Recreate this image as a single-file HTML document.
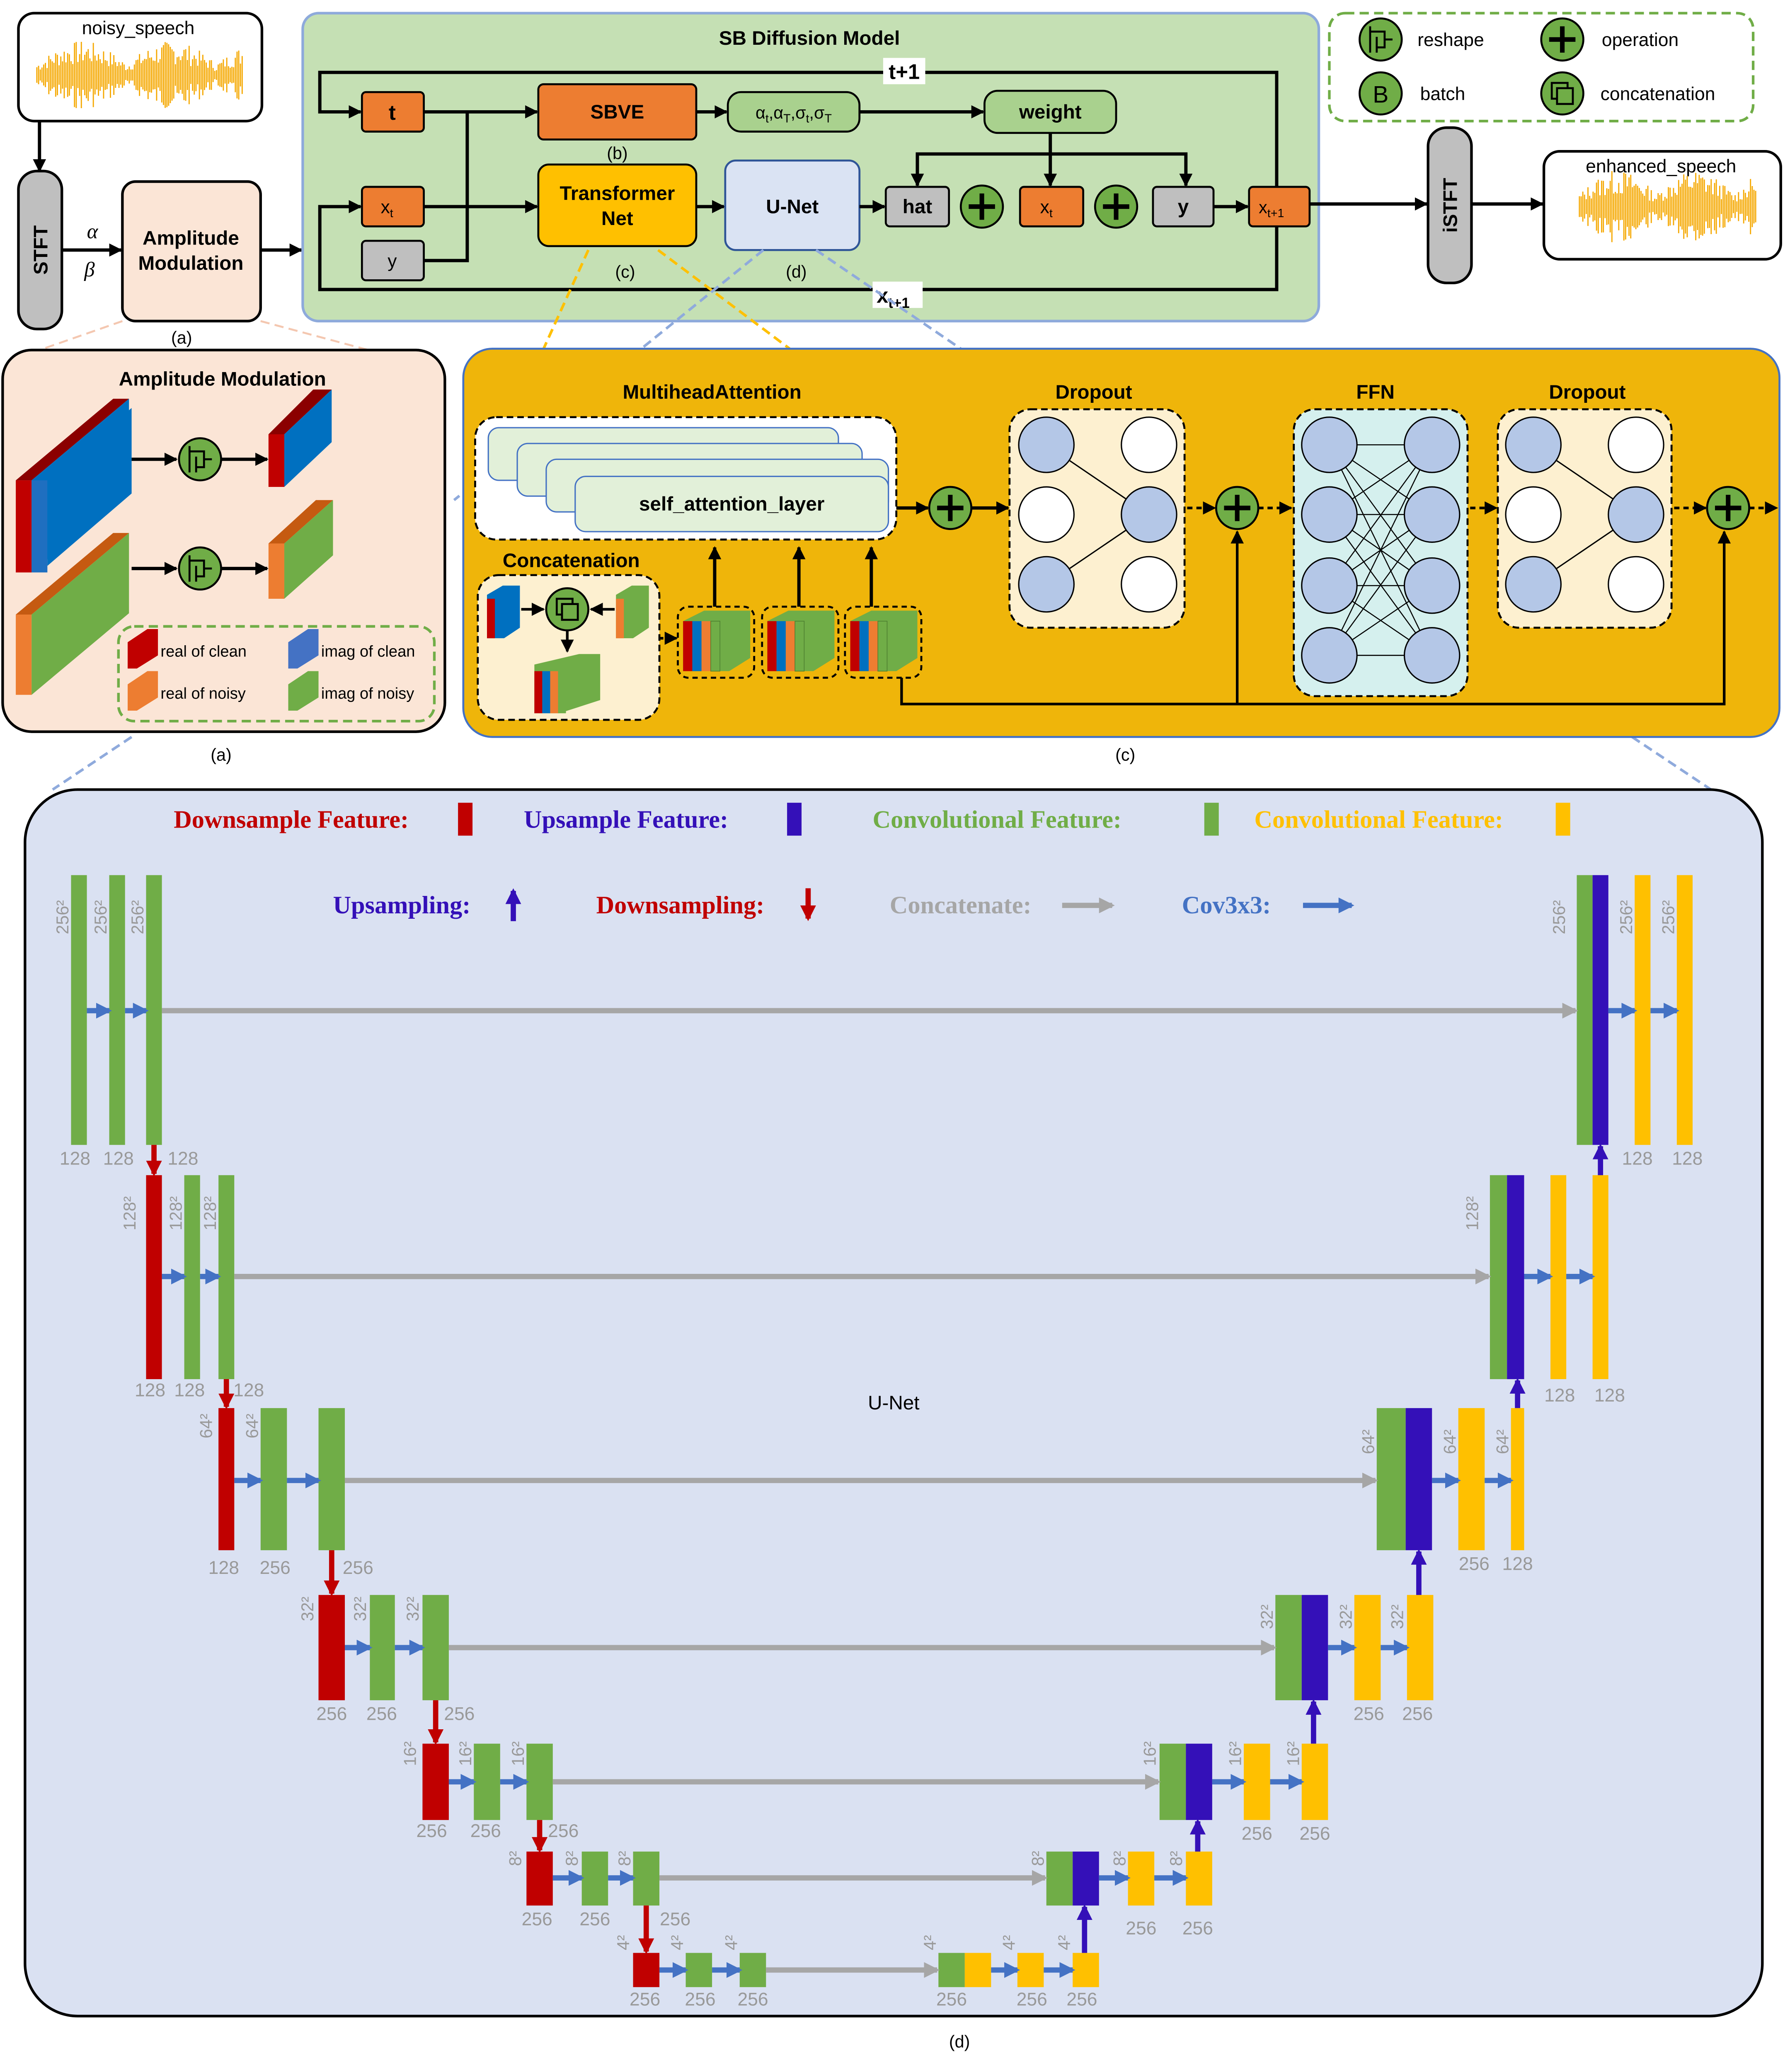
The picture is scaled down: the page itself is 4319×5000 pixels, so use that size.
<!DOCTYPE html>
<html><head><meta charset="utf-8"><style>html,body{margin:0;padding:0;background:#fff}svg{display:block}text{font-family:"Liberation Sans",sans-serif}</style></head><body>
<svg xmlns="http://www.w3.org/2000/svg" width="4319" height="5000" viewBox="0 0 1360 1574.5" preserveAspectRatio="none">
<defs>
<marker id="ak" markerWidth="10" markerHeight="10" refX="9" refY="5" orient="auto" markerUnits="userSpaceOnUse"><path d="M0,0 L10,5 L0,10 Z" fill="#000"/></marker>
<marker id="ab" markerWidth="12" markerHeight="12" refX="10" refY="6" orient="auto" markerUnits="userSpaceOnUse"><path d="M0,0 L12,6 L0,12 Z" fill="#4472c4"/></marker>
<marker id="ag" markerWidth="12" markerHeight="12" refX="10" refY="6" orient="auto" markerUnits="userSpaceOnUse"><path d="M0,0 L12,6 L0,12 Z" fill="#a6a6a6"/></marker>
<marker id="ar" markerWidth="12" markerHeight="12" refX="10" refY="6" orient="auto" markerUnits="userSpaceOnUse"><path d="M0,0 L12,6 L0,12 Z" fill="#c00000"/></marker>
<marker id="ap" markerWidth="12" markerHeight="12" refX="10" refY="6" orient="auto" markerUnits="userSpaceOnUse"><path d="M0,0 L12,6 L0,12 Z" fill="#3410b8"/></marker>
</defs>

<rect x="14" y="10" width="185" height="82" rx="12" fill="#fff" stroke="#000" stroke-width="2"/>
<text x="105" y="26" font-size="14" text-anchor="middle">noisy_speech</text>
<path id="w1" d="" stroke="#f5a800" stroke-width="0.9" fill="none"/>
<line x1="30" y1="92" x2="30" y2="130" stroke="#000" stroke-width="2.5" marker-end="url(#ak)"/>
<rect x="14" y="130" width="33" height="120" rx="14" fill="#bfbfbf" stroke="#000" stroke-width="2"/>
<text transform="translate(36,190) rotate(-90)" font-size="15" font-weight="bold" text-anchor="middle">STFT</text>
<line x1="47" y1="190" x2="92" y2="190" stroke="#000" stroke-width="2.5" marker-end="url(#ak)"/>
<text x="66" y="181" font-size="16" font-style="italic" style="font-family:'Liberation Serif',serif">α</text>
<text x="64" y="210" font-size="16" font-style="italic" style="font-family:'Liberation Serif',serif">β</text>
<rect x="93" y="138" width="105" height="106" rx="10" fill="#fbe5d6" stroke="#000" stroke-width="2"/>
<text x="145" y="186" font-size="15" font-weight="bold" text-anchor="middle">Amplitude</text>
<text x="145" y="205" font-size="15" font-weight="bold" text-anchor="middle">Modulation</text>
<text x="138" y="261" font-size="13" text-anchor="middle">(a)</text>
<line x1="198" y1="190" x2="229" y2="190" stroke="#000" stroke-width="2.5" marker-end="url(#ak)"/>

<rect x="230" y="10" width="772" height="234" rx="12" fill="#c5e0b4" stroke="#8eaadb" stroke-width="2"/>
<text x="615" y="34" font-size="15" font-weight="bold" text-anchor="middle">SB Diffusion Model</text>
<path d="M970,142 V55 H243 V85 H274" fill="none" stroke="#000" stroke-width="2.5" marker-end="url(#ak)"/>
<path d="M970,172 V220 H243 V157 H274" fill="none" stroke="#000" stroke-width="2.5" marker-end="url(#ak)"/>
<rect x="671" y="44" width="32" height="20" fill="#fff"/><text x="687" y="60" font-size="16" font-weight="bold" text-anchor="middle">t+1</text>
<rect x="663" y="214" width="38" height="20" fill="#fff"/><text x="666" y="230" font-size="16" font-weight="bold">x<tspan font-size="11" dy="4">t+1</tspan></text>
<rect x="275" y="70" width="47" height="30" rx="3" fill="#ed7d31" stroke="#000" stroke-width="1.5"/><text x="298" y="91" font-size="16" font-weight="bold" text-anchor="middle">t</text>
<rect x="275" y="142" width="47" height="30" rx="3" fill="#ed7d31" stroke="#000" stroke-width="1.5"/><text x="294" y="162" font-size="14" text-anchor="middle">x<tspan font-size="9" dy="3">t</tspan></text>
<rect x="275" y="183" width="47" height="30" rx="3" fill="#bfbfbf" stroke="#000" stroke-width="1.5"/><text x="298" y="203" font-size="14" text-anchor="middle">y</text>
<path d="M322,198 H355 V85" fill="none" stroke="#000" stroke-width="2.5"/>
<line x1="322" y1="85" x2="408" y2="85" stroke="#000" stroke-width="2.5" marker-end="url(#ak)"/>
<line x1="322" y1="157" x2="408" y2="157" stroke="#000" stroke-width="2.5" marker-end="url(#ak)"/>
<rect x="409" y="64" width="120" height="42" rx="4" fill="#ed7d31" stroke="#000" stroke-width="1.5"/><text x="469" y="90" font-size="15" font-weight="bold" text-anchor="middle">SBVE</text>
<text x="469" y="121" font-size="13" text-anchor="middle">(b)</text>
<rect x="409" y="125" width="120" height="62" rx="8" fill="#ffc000" stroke="#000" stroke-width="1.5"/>
<text x="469" y="152" font-size="15" font-weight="bold" text-anchor="middle">Transformer</text><text x="469" y="171" font-size="15" font-weight="bold" text-anchor="middle">Net</text>
<text x="475" y="211" font-size="13" text-anchor="middle">(c)</text>
<line x1="529" y1="85" x2="552" y2="85" stroke="#000" stroke-width="2.5" marker-end="url(#ak)"/>
<rect x="553" y="70" width="100" height="30" rx="10" fill="#a9d18e" stroke="#000" stroke-width="1.5"/>
<text x="603" y="90" font-size="13" text-anchor="middle">α<tspan font-size="9" dy="3">t</tspan><tspan dy="-3">,α</tspan><tspan font-size="9" dy="3">T</tspan><tspan dy="-3">,σ</tspan><tspan font-size="9" dy="3">t</tspan><tspan dy="-3">,σ</tspan><tspan font-size="9" dy="3">T</tspan></text>
<line x1="653" y1="85" x2="747" y2="85" stroke="#000" stroke-width="2.5" marker-end="url(#ak)"/>
<rect x="748" y="69" width="100" height="32" rx="10" fill="#a9d18e" stroke="#000" stroke-width="1.5"/><text x="798" y="90" font-size="15" font-weight="bold" text-anchor="middle">weight</text>
<line x1="529" y1="157" x2="550" y2="157" stroke="#000" stroke-width="2.5" marker-end="url(#ak)"/>
<rect x="551" y="122" width="102" height="68" rx="8" fill="#dae3f3" stroke="#2f5597" stroke-width="1.5"/><text x="602" y="162" font-size="15" font-weight="bold" text-anchor="middle">U-Net</text>
<text x="605" y="211" font-size="13" text-anchor="middle">(d)</text>
<line x1="653" y1="157" x2="672" y2="157" stroke="#000" stroke-width="2.5" marker-end="url(#ak)"/>
<path d="M798,101 V117" stroke="#000" stroke-width="2.5"/>
<path d="M697,141 V117 H901 V141" fill="none" stroke="#000" stroke-width="2.5" marker-end="url(#ak)"/>
<line x1="697" y1="117" x2="697" y2="141" stroke="#000" stroke-width="2.5" marker-end="url(#ak)"/>
<line x1="798" y1="117" x2="798" y2="141" stroke="#000" stroke-width="2.5" marker-end="url(#ak)"/>
<rect x="673" y="142" width="48" height="30" rx="3" fill="#bfbfbf" stroke="#000" stroke-width="1.5"/><text x="697" y="162" font-size="15" font-weight="bold" text-anchor="middle">hat</text>
<circle cx="746" cy="157" r="16" fill="#70ad47" stroke="#000" stroke-width="1.5"/><path d="M736,157 H756 M746,147 V167" stroke="#000" stroke-width="3.5"/>
<rect x="775" y="142" width="48" height="30" rx="3" fill="#ed7d31" stroke="#000" stroke-width="1.5"/><text x="795" y="162" font-size="14" text-anchor="middle">x<tspan font-size="9" dy="3">t</tspan></text>
<circle cx="848" cy="157" r="16" fill="#70ad47" stroke="#000" stroke-width="1.5"/><path d="M838,157 H858 M848,147 V167" stroke="#000" stroke-width="3.5"/>
<rect x="876" y="142" width="46" height="30" rx="3" fill="#bfbfbf" stroke="#000" stroke-width="1.5"/><text x="899" y="162" font-size="15" font-weight="bold" text-anchor="middle">y</text>
<line x1="922" y1="157" x2="948" y2="157" stroke="#000" stroke-width="2.5" marker-end="url(#ak)"/>
<rect x="949" y="142" width="46" height="30" rx="3" fill="#ed7d31" stroke="#000" stroke-width="1.5"/><text x="966" y="162" font-size="13" text-anchor="middle">x<tspan font-size="9" dy="3">t+1</tspan></text>
<line x1="995" y1="155" x2="1084" y2="155" stroke="#000" stroke-width="2.5" marker-end="url(#ak)"/>
<rect x="1085" y="97" width="33" height="118" rx="14" fill="#bfbfbf" stroke="#000" stroke-width="2"/>
<text transform="translate(1107,156) rotate(-90)" font-size="15" font-weight="bold" text-anchor="middle">iSTFT</text>
<line x1="1118" y1="155" x2="1172" y2="155" stroke="#000" stroke-width="2.5" marker-end="url(#ak)"/>
<rect x="1173" y="115" width="180" height="82" rx="12" fill="#fff" stroke="#000" stroke-width="2"/>
<text x="1262" y="131" font-size="14" text-anchor="middle">enhanced_speech</text>
<path id="w2" d="" stroke="#f5a800" stroke-width="0.9" fill="none"/>

<rect x="1010" y="10" width="322" height="82" rx="12" fill="#fff" stroke="#70ad47" stroke-width="2" stroke-dasharray="7,4"/>
<circle cx="1049" cy="30" r="16" fill="#70ad47" stroke="#000" stroke-width="1.5"/><path d="M1041,20 V40 M1041,24 H1052 V36 H1046 M1046,28 V40 M1052,30 H1058" fill="none" stroke="#000" stroke-width="1.5"/>
<text x="1077" y="35" font-size="14">reshape</text>
<circle cx="1187" cy="30" r="16" fill="#70ad47" stroke="#000" stroke-width="1.5"/><path d="M1177,30 H1197 M1187,20 V40" stroke="#000" stroke-width="3.5"/>
<text x="1217" y="35" font-size="14">operation</text>
<circle cx="1049" cy="71" r="16" fill="#70ad47" stroke="#000" stroke-width="1.5"/><text x="1049" y="78" font-size="18" text-anchor="middle">B</text>
<text x="1079" y="76" font-size="14">batch</text>
<circle cx="1187" cy="71" r="16" fill="#70ad47" stroke="#000" stroke-width="1.5"/><rect x="1179" y="63" width="12" height="12" fill="none" stroke="#000" stroke-width="1.5"/><rect x="1183" y="67" width="12" height="12" fill="#70ad47" stroke="#000" stroke-width="1.5"/>
<text x="1216" y="76" font-size="14">concatenation</text>

<line x1="93" y1="244" x2="30" y2="266" stroke="#f4c7b0" stroke-width="1.5" stroke-dasharray="7,4"/>
<line x1="198" y1="244" x2="280" y2="266" stroke="#f4c7b0" stroke-width="1.5" stroke-dasharray="7,4"/>
<line x1="447" y1="190" x2="413" y2="265" stroke="#ffc000" stroke-width="2" stroke-dasharray="7,4"/>
<line x1="500" y1="190" x2="600" y2="265" stroke="#ffc000" stroke-width="2" stroke-dasharray="7,4"/>
<line x1="580" y1="190" x2="345" y2="380" stroke="#8faadc" stroke-width="2" stroke-dasharray="7,4"/>
<line x1="620" y1="190" x2="730" y2="265" stroke="#8faadc" stroke-width="2" stroke-dasharray="7,4"/>
<line x1="100" y1="560" x2="40" y2="600" stroke="#8faadc" stroke-width="2" stroke-dasharray="7,4"/>
<line x1="1240" y1="560" x2="1300" y2="600" stroke="#8faadc" stroke-width="2" stroke-dasharray="7,4"/>

<rect x="2" y="266" width="336" height="290" rx="22" fill="#fbe5d6" stroke="#000" stroke-width="2"/>
<text x="169" y="293" font-size="15" font-weight="bold" text-anchor="middle">Amplitude Modulation</text>
<text x="168" y="578" font-size="13" text-anchor="middle">(a)</text>
<polygon points="12,365 86,303 98,303 24,365" fill="#8b0000"/>
<polygon points="24,365 98,303 98,373 24,435" fill="#0070c0"/>
<rect x="12" y="365" width="12" height="70" fill="#c00000"/>
<polygon points="24,365 36,365 36,435 24,435" fill="#1f6fc0"/>
<polygon points="36,365 100,310 100,375 36,430" fill="#0070c0"/>
<line x1="100" y1="349" x2="134" y2="349" stroke="#000" stroke-width="2.5" marker-end="url(#ak)"/>
<circle cx="152" cy="349" r="16" fill="#70ad47" stroke="#000" stroke-width="1.5"/><path d="M144,339 V359 M144,343 H155 V355 H149 M149,347 V359 M155,349 H161" fill="none" stroke="#000" stroke-width="1.5"/>
<line x1="168" y1="349" x2="203" y2="349" stroke="#000" stroke-width="2.5" marker-end="url(#ak)"/>
<polygon points="204,330 238,296 252,296 216,330" fill="#8b0000"/>
<rect x="204" y="330" width="12" height="40" fill="#c00000"/>
<polygon points="216,330 252,296 252,336 216,370" fill="#0070c0"/>
<polygon points="12,467 86,405 98,405 24,467" fill="#c55a11"/>
<rect x="12" y="467" width="12" height="61" fill="#ed7d31"/>
<polygon points="24,467 98,405 98,466 24,528" fill="#70ad47"/>
<line x1="100" y1="432" x2="134" y2="432" stroke="#000" stroke-width="2.5" marker-end="url(#ak)"/>
<circle cx="152" cy="432" r="16" fill="#70ad47" stroke="#000" stroke-width="1.5"/><path d="M144,422 V442 M144,426 H155 V438 H149 M149,430 V442 M155,432 H161" fill="none" stroke="#000" stroke-width="1.5"/>
<line x1="168" y1="432" x2="203" y2="432" stroke="#000" stroke-width="2.5" marker-end="url(#ak)"/>
<polygon points="204,413 240,380 253,380 216,413" fill="#c55a11"/>
<rect x="204" y="413" width="12" height="42" fill="#ed7d31"/>
<polygon points="216,413 253,380 253,422 216,455" fill="#70ad47"/>
<rect x="90" y="476" width="240" height="72" rx="12" fill="none" stroke="#70ad47" stroke-width="2" stroke-dasharray="7,4"/>
<polygon points="97,488 112,478 120,478 120,498 104,508 97,508" fill="#c00000"/><text x="122" y="499" font-size="12">real of clean</text>
<polygon points="97,520 112,510 120,510 120,530 104,540 97,540" fill="#ed7d31"/><text x="122" y="531" font-size="12">real of noisy</text>
<polygon points="219,488 234,478 242,478 242,498 226,508 219,508" fill="#4472c4"/><text x="244" y="499" font-size="12">imag of clean</text>
<polygon points="219,520 234,510 242,510 242,530 226,540 219,540" fill="#70ad47"/><text x="244" y="531" font-size="12">imag of noisy</text>

<rect x="352" y="265" width="1000" height="295" rx="22" fill="#efb50a" stroke="#4472c4" stroke-width="1.5"/>
<text x="855" y="578" font-size="13" text-anchor="middle">(c)</text>
<text x="541" y="303" font-size="15" font-weight="bold" text-anchor="middle">MultiheadAttention</text>
<rect x="361" y="317" width="320" height="93" rx="16" fill="#fff" stroke="#000" stroke-width="1.5" stroke-dasharray="5,3"/>
<rect x="371" y="325" width="266" height="40" rx="8" fill="#e2f0d9" stroke="#4472c4" stroke-width="1"/>
<rect x="393" y="337" width="262" height="40" rx="8" fill="#e2f0d9" stroke="#4472c4" stroke-width="1"/>
<rect x="415" y="349" width="260" height="40" rx="8" fill="#e2f0d9" stroke="#4472c4" stroke-width="1"/>
<rect x="437" y="362" width="238" height="42" rx="8" fill="#e2f0d9" stroke="#4472c4" stroke-width="1"/>
<text x="556" y="388" font-size="15" font-weight="bold" text-anchor="middle">self_attention_layer</text>
<line x1="681" y1="386" x2="705" y2="386" stroke="#000" stroke-width="2.5" marker-end="url(#ak)"/>
<circle cx="722" cy="386" r="16" fill="#70ad47" stroke="#000" stroke-width="1.5"/><path d="M712,386 H732 M722,376 V396" stroke="#000" stroke-width="3.5"/>
<line x1="738" y1="386" x2="766" y2="386" stroke="#000" stroke-width="2.5" marker-end="url(#ak)"/>
<text x="831" y="303" font-size="15" font-weight="bold" text-anchor="middle">Dropout</text>
<rect x="767" y="311" width="133" height="166" rx="16" fill="#fdf0d0" stroke="#000" stroke-width="1.5" stroke-dasharray="5,3"/>
<path d="M795,338 L873,391 M795,444 L873,391" stroke="#000" stroke-width="1"/>
<circle cx="795" cy="338" r="21" fill="#b4c7e7" stroke="#000"/><circle cx="795" cy="391" r="21" fill="#fff" stroke="#000"/><circle cx="795" cy="444" r="21" fill="#b4c7e7" stroke="#000"/>
<circle cx="873" cy="338" r="21" fill="#fff" stroke="#000"/><circle cx="873" cy="391" r="21" fill="#b4c7e7" stroke="#000"/><circle cx="873" cy="444" r="21" fill="#fff" stroke="#000"/>
<line x1="902" y1="386" x2="923" y2="386" stroke="#000" stroke-width="2" stroke-dasharray="4,3" marker-end="url(#ak)"/>
<circle cx="940" cy="386" r="16" fill="#70ad47" stroke="#000" stroke-width="1.5"/><path d="M930,386 H950 M940,376 V396" stroke="#000" stroke-width="3.5"/>
<line x1="956" y1="386" x2="981" y2="386" stroke="#000" stroke-width="2" stroke-dasharray="4,3" marker-end="url(#ak)"/>
<text x="1045" y="303" font-size="15" font-weight="bold" text-anchor="middle">FFN</text>
<rect x="983" y="311" width="132" height="218" rx="16" fill="#d5f0ee" stroke="#000" stroke-width="1.5" stroke-dasharray="5,3"/>
<path d="M1010,338 L1088,338 M1010,338 L1088,391 M1010,338 L1088,445 M1010,338 L1088,498 M1010,391 L1088,338 M1010,391 L1088,391 M1010,391 L1088,445 M1010,391 L1088,498 M1010,445 L1088,338 M1010,445 L1088,391 M1010,445 L1088,445 M1010,445 L1088,498 M1010,498 L1088,338 M1010,498 L1088,391 M1010,498 L1088,445 M1010,498 L1088,498" stroke="#000" stroke-width="0.8"/>
<g fill="#b4c7e7" stroke="#000"><circle cx="1010" cy="338" r="21"/><circle cx="1010" cy="391" r="21"/><circle cx="1010" cy="445" r="21"/><circle cx="1010" cy="498" r="21"/><circle cx="1088" cy="338" r="21"/><circle cx="1088" cy="391" r="21"/><circle cx="1088" cy="445" r="21"/><circle cx="1088" cy="498" r="21"/></g>
<line x1="1117" y1="386" x2="1137" y2="386" stroke="#000" stroke-width="2" stroke-dasharray="4,3" marker-end="url(#ak)"/>
<text x="1206" y="303" font-size="15" font-weight="bold" text-anchor="middle">Dropout</text>
<rect x="1138" y="311" width="132" height="166" rx="16" fill="#fdf0d0" stroke="#000" stroke-width="1.5" stroke-dasharray="5,3"/>
<path d="M1165,338 L1243,391 M1165,444 L1243,391" stroke="#000" stroke-width="1"/>
<circle cx="1165" cy="338" r="21" fill="#b4c7e7" stroke="#000"/><circle cx="1165" cy="391" r="21" fill="#fff" stroke="#000"/><circle cx="1165" cy="444" r="21" fill="#b4c7e7" stroke="#000"/>
<circle cx="1243" cy="338" r="21" fill="#fff" stroke="#000"/><circle cx="1243" cy="391" r="21" fill="#b4c7e7" stroke="#000"/><circle cx="1243" cy="444" r="21" fill="#fff" stroke="#000"/>
<line x1="1272" y1="386" x2="1296" y2="386" stroke="#000" stroke-width="2" stroke-dasharray="4,3" marker-end="url(#ak)"/>
<circle cx="1313" cy="386" r="16" fill="#70ad47" stroke="#000" stroke-width="1.5"/><path d="M1303,386 H1323 M1313,376 V396" stroke="#000" stroke-width="3.5"/>
<line x1="1329" y1="386" x2="1350" y2="386" stroke="#000" stroke-width="2" stroke-dasharray="4,3" marker-end="url(#ak)"/>
<path d="M685,515 V535 H1310 V404" fill="none" stroke="#000" stroke-width="2" marker-end="url(#ak)"/>
<line x1="940" y1="535" x2="940" y2="404" stroke="#000" stroke-width="2" marker-end="url(#ak)"/>
<text x="434" y="431" font-size="15" font-weight="bold" text-anchor="middle">Concatenation</text>
<rect x="363" y="437" width="138" height="110" rx="16" fill="#fdf0d0" stroke="#000" stroke-width="1.5" stroke-dasharray="5,3"/>
<polygon points="370,452 382,445 395,445 395,477 383,485 370,485" fill="#0070c0"/><rect x="370" y="455" width="6" height="30" fill="#c00000"/>
<polygon points="468,452 480,445 493,445 493,477 481,485 468,485" fill="#70ad47"/><rect x="468" y="455" width="6" height="30" fill="#ed7d31"/>
<line x1="396" y1="463" x2="413" y2="463" stroke="#000" stroke-width="2" marker-end="url(#ak)"/>
<line x1="467" y1="463" x2="449" y2="463" stroke="#000" stroke-width="2" marker-end="url(#ak)"/>
<circle cx="431" cy="463" r="16" fill="#70ad47" stroke="#000" stroke-width="1.5"/><rect x="423" y="455" width="12" height="12" fill="none" stroke="#000" stroke-width="1.5"/><rect x="427" y="459" width="12" height="12" fill="#70ad47" stroke="#000" stroke-width="1.5"/>
<line x1="431" y1="479" x2="431" y2="495" stroke="#000" stroke-width="2" marker-end="url(#ak)"/>
<g><polygon points="406,505 440,497 456,497 456,532 425,542 406,542" fill="#70ad47"/><rect x="406" y="510" width="6" height="32" fill="#c00000"/><rect x="412" y="510" width="6" height="32" fill="#0070c0"/><rect x="418" y="510" width="6" height="32" fill="#ed7d31"/><rect x="424" y="510" width="6" height="32" fill="#70ad47"/></g>
<line x1="501" y1="485" x2="514" y2="485" stroke="#000" stroke-width="2" stroke-dasharray="3,2" marker-end="url(#ak)"/>
<g id="cb">
<rect x="515" y="461" width="58" height="54" rx="8" fill="none" stroke="#000" stroke-width="1.5" stroke-dasharray="4,3"/>
<polygon points="519,472 535,464 570,464 570,500 554,510 519,510" fill="#70ad47"/>
<rect x="519" y="472" width="7" height="38" fill="#c00000"/><rect x="526" y="472" width="7" height="38" fill="#0070c0"/><rect x="533" y="472" width="7" height="38" fill="#ed7d31"/><rect x="540" y="472" width="7" height="38" fill="#70ad47" stroke="#4d7f30" stroke-width="0.5"/>
</g>
<use href="#cb" x="64"/><use href="#cb" x="127"/>
<line x1="543" y1="461" x2="543" y2="416" stroke="#000" stroke-width="2.5" marker-end="url(#ak)"/>
<line x1="607" y1="461" x2="607" y2="416" stroke="#000" stroke-width="2.5" marker-end="url(#ak)"/>
<line x1="662" y1="461" x2="662" y2="416" stroke="#000" stroke-width="2.5" marker-end="url(#ak)"/>

<rect x="19" y="600" width="1320" height="932" rx="40" fill="#dae1f2" stroke="#000" stroke-width="2"/>
<text x="729" y="1556" font-size="13" text-anchor="middle">(d)</text>
<g font-weight="bold" font-size="19" style="font-family:'Liberation Serif',serif">
<text x="132" y="629" fill="#c00000" style="font-family:'Liberation Serif',serif">Downsample Feature:</text><rect x="348" y="610" width="11" height="25" fill="#c00000"/>
<text x="398" y="629" fill="#3410b8" style="font-family:'Liberation Serif',serif">Upsample Feature:</text><rect x="598" y="610" width="11" height="25" fill="#3410b8"/>
<text x="663" y="629" fill="#70ad47" style="font-family:'Liberation Serif',serif">Convolutional Feature:</text><rect x="915" y="610" width="11" height="25" fill="#70ad47"/>
<text x="953" y="629" fill="#ffc000" style="font-family:'Liberation Serif',serif">Convolutional Feature:</text><rect x="1182" y="610" width="11" height="25" fill="#ffc000"/>
<text x="253" y="694" fill="#3410b8" style="font-family:'Liberation Serif',serif">Upsampling:</text>
<text x="453" y="694" fill="#c00000" style="font-family:'Liberation Serif',serif">Downsampling:</text>
<text x="676" y="694" fill="#a6a6a6" style="font-family:'Liberation Serif',serif">Concatenate:</text>
<text x="898" y="694" fill="#4472c4" style="font-family:'Liberation Serif',serif">Cov3x3:</text>
</g>
<line x1="390" y1="700" x2="390" y2="677" stroke="#3410b8" stroke-width="4" marker-end="url(#ap)"/>
<line x1="614" y1="675" x2="614" y2="698" stroke="#c00000" stroke-width="4" marker-end="url(#ar)"/>
<line x1="807" y1="688" x2="845" y2="688" stroke="#a6a6a6" stroke-width="4" marker-end="url(#ag)"/>
<line x1="990" y1="688" x2="1027" y2="688" stroke="#4472c4" stroke-width="4" marker-end="url(#ab)"/>
<text x="679" y="1071" font-size="15" text-anchor="middle">U-Net</text>

<g>
<rect x="54" y="665" width="12" height="205" fill="#70ad47"/><rect x="83" y="665" width="12" height="205" fill="#70ad47"/><rect x="111" y="665" width="12" height="205" fill="#70ad47"/>
<rect x="1198" y="665" width="12" height="205" fill="#70ad47"/><rect x="1210" y="665" width="12" height="205" fill="#3410b8"/><rect x="1242" y="665" width="12" height="205" fill="#ffc000"/><rect x="1274" y="665" width="12" height="205" fill="#ffc000"/>
<rect x="111" y="893" width="12" height="155" fill="#c00000"/><rect x="140" y="893" width="12" height="155" fill="#70ad47"/><rect x="166" y="893" width="12" height="155" fill="#70ad47"/>
<rect x="1132" y="893" width="13" height="155" fill="#70ad47"/><rect x="1145" y="893" width="13" height="155" fill="#3410b8"/><rect x="1178" y="893" width="12" height="155" fill="#ffc000"/><rect x="1210" y="893" width="12" height="155" fill="#ffc000"/>
<rect x="166" y="1070" width="12" height="108" fill="#c00000"/><rect x="198" y="1070" width="20" height="108" fill="#70ad47"/><rect x="242" y="1070" width="20" height="108" fill="#70ad47"/>
<rect x="1046" y="1070" width="22" height="108" fill="#70ad47"/><rect x="1068" y="1070" width="20" height="108" fill="#3410b8"/><rect x="1108" y="1070" width="20" height="108" fill="#ffc000"/><rect x="1148" y="1070" width="10" height="108" fill="#ffc000"/>
<rect x="242" y="1212" width="20" height="80" fill="#c00000"/><rect x="281" y="1212" width="19" height="80" fill="#70ad47"/><rect x="321" y="1212" width="20" height="80" fill="#70ad47"/>
<rect x="969" y="1212" width="20" height="80" fill="#70ad47"/><rect x="989" y="1212" width="20" height="80" fill="#3410b8"/><rect x="1029" y="1212" width="20" height="80" fill="#ffc000"/><rect x="1069" y="1212" width="20" height="80" fill="#ffc000"/>
<rect x="321" y="1325" width="20" height="58" fill="#c00000"/><rect x="360" y="1325" width="20" height="58" fill="#70ad47"/><rect x="400" y="1325" width="20" height="58" fill="#70ad47"/>
<rect x="881" y="1325" width="20" height="58" fill="#70ad47"/><rect x="901" y="1325" width="20" height="58" fill="#3410b8"/><rect x="945" y="1325" width="20" height="58" fill="#ffc000"/><rect x="989" y="1325" width="20" height="58" fill="#ffc000"/>
<rect x="400" y="1407" width="20" height="41" fill="#c00000"/><rect x="442" y="1407" width="20" height="41" fill="#70ad47"/><rect x="481" y="1407" width="20" height="41" fill="#70ad47"/>
<rect x="795" y="1407" width="20" height="41" fill="#70ad47"/><rect x="815" y="1407" width="20" height="41" fill="#3410b8"/><rect x="857" y="1407" width="20" height="41" fill="#ffc000"/><rect x="901" y="1407" width="20" height="41" fill="#ffc000"/>
<rect x="481" y="1484" width="20" height="26" fill="#c00000"/><rect x="521" y="1484" width="20" height="26" fill="#70ad47"/><rect x="562" y="1484" width="20" height="26" fill="#70ad47"/>
<rect x="713" y="1484" width="20" height="26" fill="#70ad47"/><rect x="733" y="1484" width="20" height="26" fill="#ffc000"/><rect x="773" y="1484" width="20" height="26" fill="#ffc000"/><rect x="815" y="1484" width="20" height="26" fill="#ffc000"/>
</g>
<g stroke="#a6a6a6" stroke-width="4">
<line x1="123" y1="768" x2="1197" y2="768" marker-end="url(#ag)"/>
<line x1="178" y1="970" x2="1131" y2="970" marker-end="url(#ag)"/>
<line x1="262" y1="1125" x2="1045" y2="1125" marker-end="url(#ag)"/>
<line x1="341" y1="1252" x2="968" y2="1252" marker-end="url(#ag)"/>
<line x1="420" y1="1354" x2="880" y2="1354" marker-end="url(#ag)"/>
<line x1="501" y1="1427" x2="794" y2="1427" marker-end="url(#ag)"/>
<line x1="582" y1="1497" x2="712" y2="1497" marker-end="url(#ag)"/>
</g>
<g stroke="#4472c4" stroke-width="4">
<line x1="66" y1="768" x2="83" y2="768" marker-end="url(#ab)"/><line x1="95" y1="768" x2="111" y2="768" marker-end="url(#ab)"/>
<line x1="1222" y1="768" x2="1242" y2="768" marker-end="url(#ab)"/><line x1="1254" y1="768" x2="1274" y2="768" marker-end="url(#ab)"/>
<line x1="123" y1="970" x2="140" y2="970" marker-end="url(#ab)"/><line x1="152" y1="970" x2="166" y2="970" marker-end="url(#ab)"/>
<line x1="1158" y1="970" x2="1178" y2="970" marker-end="url(#ab)"/><line x1="1190" y1="970" x2="1210" y2="970" marker-end="url(#ab)"/>
<line x1="178" y1="1125" x2="198" y2="1125" marker-end="url(#ab)"/><line x1="218" y1="1125" x2="242" y2="1125" marker-end="url(#ab)"/>
<line x1="1088" y1="1125" x2="1108" y2="1125" marker-end="url(#ab)"/><line x1="1128" y1="1125" x2="1148" y2="1125" marker-end="url(#ab)"/>
<line x1="262" y1="1252" x2="281" y2="1252" marker-end="url(#ab)"/><line x1="300" y1="1252" x2="321" y2="1252" marker-end="url(#ab)"/>
<line x1="1009" y1="1252" x2="1029" y2="1252" marker-end="url(#ab)"/><line x1="1049" y1="1252" x2="1069" y2="1252" marker-end="url(#ab)"/>
<line x1="341" y1="1354" x2="360" y2="1354" marker-end="url(#ab)"/><line x1="380" y1="1354" x2="400" y2="1354" marker-end="url(#ab)"/>
<line x1="921" y1="1354" x2="945" y2="1354" marker-end="url(#ab)"/><line x1="965" y1="1354" x2="989" y2="1354" marker-end="url(#ab)"/>
<line x1="420" y1="1427" x2="442" y2="1427" marker-end="url(#ab)"/><line x1="462" y1="1427" x2="481" y2="1427" marker-end="url(#ab)"/>
<line x1="835" y1="1427" x2="857" y2="1427" marker-end="url(#ab)"/><line x1="877" y1="1427" x2="901" y2="1427" marker-end="url(#ab)"/>
<line x1="501" y1="1497" x2="521" y2="1497" marker-end="url(#ab)"/><line x1="541" y1="1497" x2="562" y2="1497" marker-end="url(#ab)"/>
<line x1="753" y1="1497" x2="773" y2="1497" marker-end="url(#ab)"/><line x1="793" y1="1497" x2="815" y2="1497" marker-end="url(#ab)"/>
</g>
<g stroke="#c00000" stroke-width="4">
<line x1="117" y1="870" x2="117" y2="892" marker-end="url(#ar)"/>
<line x1="172" y1="1048" x2="172" y2="1069" marker-end="url(#ar)"/>
<line x1="252" y1="1178" x2="252" y2="1211" marker-end="url(#ar)"/>
<line x1="331" y1="1292" x2="331" y2="1324" marker-end="url(#ar)"/>
<line x1="410" y1="1383" x2="410" y2="1406" marker-end="url(#ar)"/>
<line x1="491" y1="1448" x2="491" y2="1483" marker-end="url(#ar)"/>
</g>
<g stroke="#3410b8" stroke-width="4">
<line x1="1216" y1="893" x2="1216" y2="871" marker-end="url(#ap)"/>
<line x1="1153" y1="1070" x2="1153" y2="1049" marker-end="url(#ap)"/>
<line x1="1078" y1="1212" x2="1078" y2="1179" marker-end="url(#ap)"/>
<line x1="998" y1="1325" x2="998" y2="1293" marker-end="url(#ap)"/>
<line x1="910" y1="1407" x2="910" y2="1384" marker-end="url(#ap)"/>
<line x1="824" y1="1484" x2="824" y2="1449" marker-end="url(#ap)"/>
</g>
<g fill="#999" font-size="14" text-anchor="middle">
<text x="57" y="885">128</text><text x="90" y="885">128</text><text x="139" y="885">128</text>
<text x="1244" y="885">128</text><text x="1282" y="885">128</text>
<text x="114" y="1061">128</text><text x="144" y="1061">128</text><text x="189" y="1061">128</text>
<text x="1185" y="1065">128</text><text x="1223" y="1065">128</text>
<text x="170" y="1196">128</text><text x="209" y="1196">256</text><text x="272" y="1196">256</text>
<text x="1120" y="1193">256</text><text x="1153" y="1193">128</text>
<text x="252" y="1307">256</text><text x="290" y="1307">256</text><text x="349" y="1307">256</text>
<text x="1040" y="1307">256</text><text x="1077" y="1307">256</text>
<text x="328" y="1396">256</text><text x="369" y="1396">256</text><text x="428" y="1396">256</text>
<text x="955" y="1398">256</text><text x="999" y="1398">256</text>
<text x="408" y="1463">256</text><text x="452" y="1463">256</text><text x="513" y="1463">256</text>
<text x="867" y="1470">256</text><text x="910" y="1470">256</text>
<text x="490" y="1524">256</text><text x="532" y="1524">256</text><text x="572" y="1524">256</text>
<text x="723" y="1524">256</text><text x="784" y="1524">256</text><text x="822" y="1524">256</text>
</g>
<g fill="#999" font-size="13">
<text transform="translate(52,710) rotate(-90)">256²</text><text transform="translate(81,710) rotate(-90)">256²</text><text transform="translate(109,710) rotate(-90)">256²</text>
<text transform="translate(1189,710) rotate(-90)">256²</text><text transform="translate(1240,710) rotate(-90)">256²</text><text transform="translate(1272,710) rotate(-90)">256²</text>
<text transform="translate(103,935) rotate(-90)">128²</text><text transform="translate(138,935) rotate(-90)">128²</text><text transform="translate(164,935) rotate(-90)">128²</text><text transform="translate(1123,935) rotate(-90)">128²</text>
<text transform="translate(161,1093) rotate(-90)">64²</text><text transform="translate(196,1093) rotate(-90)">64²</text><text transform="translate(1044,1105) rotate(-90)">64²</text><text transform="translate(1106,1105) rotate(-90)">64²</text><text transform="translate(1146,1105) rotate(-90)">64²</text>
<text transform="translate(238,1232) rotate(-90)">32²</text><text transform="translate(278,1232) rotate(-90)">32²</text><text transform="translate(318,1232) rotate(-90)">32²</text><text transform="translate(967,1238) rotate(-90)">32²</text><text transform="translate(1027,1238) rotate(-90)">32²</text><text transform="translate(1066,1238) rotate(-90)">32²</text>
<text transform="translate(316,1342) rotate(-90)">16²</text><text transform="translate(358,1342) rotate(-90)">16²</text><text transform="translate(398,1342) rotate(-90)">16²</text><text transform="translate(878,1342) rotate(-90)">16²</text><text transform="translate(943,1342) rotate(-90)">16²</text><text transform="translate(987,1342) rotate(-90)">16²</text>
<text transform="translate(396,1418) rotate(-90)">8²</text><text transform="translate(439,1418) rotate(-90)">8²</text><text transform="translate(479,1418) rotate(-90)">8²</text><text transform="translate(793,1418) rotate(-90)">8²</text><text transform="translate(855,1418) rotate(-90)">8²</text><text transform="translate(898,1418) rotate(-90)">8²</text>
<text transform="translate(478,1482) rotate(-90)">4²</text><text transform="translate(519,1482) rotate(-90)">4²</text><text transform="translate(560,1482) rotate(-90)">4²</text><text transform="translate(711,1482) rotate(-90)">4²</text><text transform="translate(771,1482) rotate(-90)">4²</text><text transform="translate(813,1482) rotate(-90)">4²</text>
</g>
</svg>
<script>
function wave(id,x0,x1,cy,amp,seed){var d="",s=seed;for(var x=x0;x<x1;x+=1.3){s=(s*9301+49297)%233280;var r=s/233280;var env=0.35+0.65*Math.abs(Math.sin((x-x0)/(x1-x0)*Math.PI*2.3));var a=amp*env*(0.3+0.7*r);d+="M"+x.toFixed(1)+","+(cy-a).toFixed(1)+"V"+(cy+a).toFixed(1);}document.getElementById(id).setAttribute("d",d);}
wave("w1",28,185,57,26,7);wave("w2",1200,1335,157,28,13);
</script>
</body></html>
